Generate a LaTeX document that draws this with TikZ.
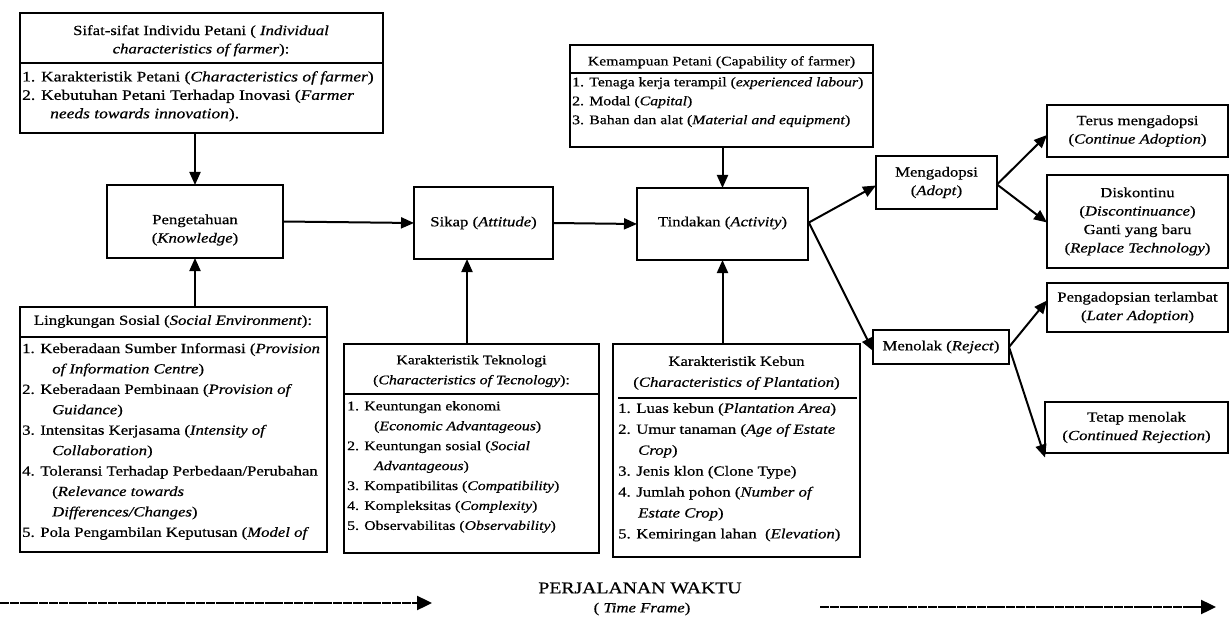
\documentclass[tikz,border=0pt]{standalone}
\usepackage{fontspec}
\setmainfont[FakeStretch=1.2,FakeBold=0.6]{Liberation Serif}
\usetikzlibrary{arrows.meta}
\begin{document}
\begin{tikzpicture}[x=1bp,y=-1bp,
  fA/.style={font=\fontsize{14}{18.5}\selectfont},
  fA2/.style={font=\fontsize{14.6}{18.5}\selectfont},
  fB/.style={font=\fontsize{14}{20.5}\selectfont},
  fC/.style={font=\fontsize{13.2}{20}\selectfont},
  fD/.style={font=\fontsize{13.2}{19}\selectfont},
  fE/.style={font=\fontsize{14}{21}\selectfont},
  box/.style={draw, line width=2.1bp, inner sep=0pt, outer sep=0pt, anchor=north west},
  cbox/.style={draw, line width=2.1bp, inner sep=0pt, outer sep=0pt, align=center, fA},
  hd/.style={inner sep=0pt, align=center, anchor=north},
  lst/.style={inner sep=0pt, align=left, anchor=north west},
  sepline/.style={line width=1.2bp},
  arr/.style={line width=2bp, -{Triangle[length=13bp,width=11bp]}},
  timearr/.style={line width=2.4bp, dash pattern=on 9bp off 0.8bp, -{Triangle[length=15bp,width=14bp]}},
]
\useasboundingbox[fill=white] (0,0) rectangle (1231,618);

% ---- Sifat-sifat individu petani
\node[box, minimum width=363bp, minimum height=120bp] (sifat) at (20,13) {};
\node[hd, fA] (sifatH) at (201,25) {Sifat-sifat Individu Petani ( \textit{Individual}\\\textit{characteristics of farmer}):};
\draw[sepline] (sifat.west |- 0,63) -- (sifat.east |- 0,63);
\node[lst, fA2] (sifatL) at (22,71) {1. Karakteristik Petani (\textit{Characteristics of farmer})\\
2. Kebutuhan Petani Terhadap Inovasi (\textit{Farmer}\\
\hspace*{28bp}\textit{needs towards innovation}).};

% ---- Pengetahuan
\node[box, minimum width=176bp, minimum height=73bp] (peng) at (107,185) {};
\node[hd, fA, anchor=center] (pengT) at (195,230) {Pengetahuan\\(\textit{Knowledge})};

% ---- Lingkungan sosial
\node[box, minimum width=307bp, minimum height=245bp] (ling) at (20,307) {};
\node[hd, fB] (lingH) at (173,315) {Lingkungan Sosial (\textit{Social Environment}):};
\draw[sepline] (ling.west |- 0,337) -- (ling.east |- 0,337);
\node[lst, fB] (lingL) at (22,343) {1. Keberadaan Sumber Informasi (\textit{Provision}\\
\hspace*{30bp}\textit{of Information Centre})\\
2. Keberadaan Pembinaan (\textit{Provision of}\\
\hspace*{30bp}\textit{Guidance})\\
3. Intensitas Kerjasama (\textit{Intensity of}\\
\hspace*{30bp}\textit{Collaboration})\\
4. Toleransi Terhadap Perbedaan/Perubahan\\
\hspace*{30bp}(\textit{Relevance towards}\\
\hspace*{30bp}\textit{Differences/Changes})\\
5. Pola Pengambilan Keputusan (\textit{Model of}};

% ---- Sikap
\node[box, minimum width=139bp, minimum height=72bp] (sikap) at (414,187) {};
\node[hd, fA, anchor=center] (sikapT) at (483.5,223) {Sikap (\textit{Attitude})};

% ---- Karakteristik Teknologi
\node[box, minimum width=255bp, minimum height=209bp] (tek) at (344,344) {};
\node[hd, fC] (tekH) at (471.5,355) {Karakteristik Teknologi\\(\textit{Characteristics of Tecnology}):};
\draw[sepline] (tek.west |- 0,394) -- (tek.east |- 0,394);
\node[lst, fC] (tekL) at (347,401) {1. Keuntungan ekonomi\\
\hspace*{27bp}(\textit{Economic Advantageous})\\
2. Keuntungan sosial (\textit{Social}\\
\hspace*{27bp}\textit{Advantageous})\\
3. Kompatibilitas (\textit{Compatibility})\\
4. Kompleksitas (\textit{Complexity})\\
5. Observabilitas (\textit{Observability})};

% ---- Tindakan
\node[box, minimum width=171bp, minimum height=72bp] (tind) at (637,188) {};
\node[hd, fA, anchor=center] (tindT) at (722.5,223) {Tindakan (\textit{Activity})};

% ---- Kemampuan Petani
\node[box, minimum width=303bp, minimum height=102bp] (kemp) at (570,45) {};
\node[hd, fD] (kempH) at (721.5,56) {Kemampuan Petani (Capability of farmer)};
\draw[sepline] (kemp.west |- 0,73) -- (kemp.east |- 0,73);
\node[lst, fD] (kempL) at (572,77) {1. Tenaga kerja terampil (\textit{experienced labour})\\
2. Modal (\textit{Capital})\\
3. Bahan dan alat (\textit{Material and equipment})};

% ---- Karakteristik Kebun
\node[box, minimum width=247bp, minimum height=213bp] (kebun) at (613,344) {};
\node[hd, fE] (kebunH) at (736.5,356) {Karakteristik Kebun\\(\textit{Characteristics of Plantation})};
\draw[sepline] (618,398) -- (857,398);
\node[lst, fE] (kebunL) at (618,403) {1. Luas kebun (\textit{Plantation Area})\\
2. Umur tanaman (\textit{Age of Estate}\\
\hspace*{20bp}\textit{Crop})\\
3. Jenis klon (Clone Type)\\
4. Jumlah pohon (\textit{Number of}\\
\hspace*{20bp}\textit{Estate Crop})\\
5. Kemiringan lahan\ \ (\textit{Elevation})};

% ---- Right side outcome boxes
\node[cbox, minimum width=121bp, minimum height=53bp] (adopt) at (936.5,182.5) {Mengadopsi\\(\textit{Adopt})};
\node[cbox, minimum width=181bp, minimum height=52bp] (terus) at (1137.5,131) {Terus mengadopsi\\(\textit{Continue Adoption})};
\node[cbox, minimum width=181bp, minimum height=93bp] (disk) at (1137.5,221.5) {Diskontinu\\(\textit{Discontinuance})\\Ganti yang baru\\(\textit{Replace Technology})};
\node[cbox, minimum width=136bp, minimum height=34bp] (tolak) at (941,347) {Menolak (\textit{Reject})};
\node[cbox, minimum width=181bp, minimum height=49bp] (later) at (1137.5,307.5) {Pengadopsian terlambat\\(\textit{Later Adoption})};
\node[cbox, minimum width=183bp, minimum height=51bp] (tetap) at (1136.5,427.5) {Tetap menolak\\(\textit{Continued Rejection})};

% ---- Arrows
\draw[arr] (peng.north |- sifat.south) -- (peng.north);
\draw[arr] (peng.south |- ling.north) -- (peng.south);
\draw[arr] (peng.east) -- (sikap.west);
\draw[arr] (sikap.east) -- (tind.west);
\draw[arr] (467,344) coordinate (tekTop) -- (tekTop |- sikap.south);
\draw[arr] (tind.north |- kemp.south) -- (tind.north);
\draw[arr] (tind.south |- kebun.north) -- (tind.south);
\draw[arr] ([yshift=1bp]tind.east) -- ([yshift=-3bp]adopt.west);
\draw[arr] ([yshift=3bp]tind.east) -- ([yshift=-4bp]tolak.west);
\draw[arr] ([yshift=-2bp]adopt.east) -- ([yshift=-4bp]terus.west);
\draw[arr] ([yshift=-2bp]adopt.east) -- ([yshift=-1bp]disk.west);
\draw[arr] (tolak.east) -- ([yshift=7bp]later.west);
\draw[arr] (tolak.east) -- ([yshift=-30bp]tetap.west);

% ---- Time frame
\coordinate (tl0) at (0,603);
\coordinate (tl1) at (432,603);
\coordinate (tr0) at (820,607);
\coordinate (tr1) at (1216,607);
\draw[timearr] (tl0) -- (tl1);
\draw[timearr] (tr0) -- (tr1);
\node[inner sep=0pt, font=\fontsize{16.5}{18}\selectfont] (pw) at (640,588) {PERJALANAN WAKTU};
\node[inner sep=0pt, font=\fontsize{14}{18}\selectfont] (tf) at (642,609) {( \textit{Time Frame})};
\end{tikzpicture}
\end{document}
